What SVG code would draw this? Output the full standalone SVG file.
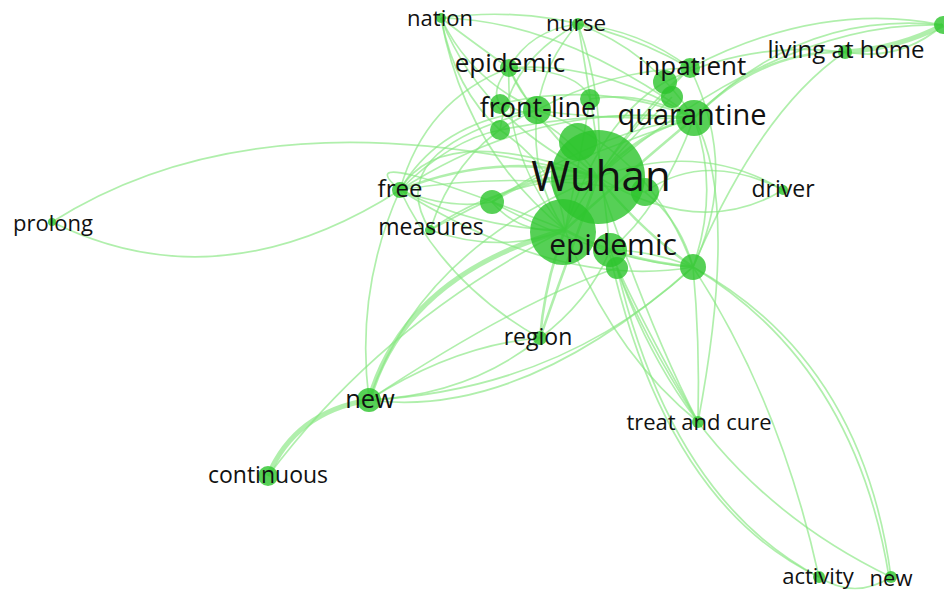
<svg xmlns="http://www.w3.org/2000/svg" width="944" height="597" viewBox="0 0 944 597">
<style>
.e{fill:none;stroke:#86e680;stroke-opacity:0.65;stroke-width:1.7}
.t{stroke-width:2.6}
.k{stroke-width:5}
.n{fill:#2cc42c;fill-opacity:0.8}
text{font-family:"Open Sans","Liberation Sans",sans-serif;fill:#111;text-anchor:middle}
</style>
<rect width="944" height="597" fill="#fff"/>
<g id="edges">
<path class="e" d="M52,222 Q260,90 598,177"/>
<path class="e" d="M52,222 Q220,305 400,190"/>
<path class="e k" d="M369,400 Q295,412 268,476"/>
<path class="e" d="M268,476 Q385,320 565,230"/>
<path class="e k" d="M369,400 Q405,275 565,230"/>
<path class="e" d="M369,400 Q470,395 540,338"/>
<path class="e" d="M369,400 Q455,345 540,338"/>
<path class="e" d="M369,400 Q355,290 400,190"/>
<path class="e" d="M369,400 Q520,420 693,267"/>
<path class="e t" d="M540,338 Q545,280 565,230"/>
<path class="e t" d="M540,338 Q560,280 598,177"/>
<path class="e" d="M540,338 Q590,300 610,250"/>
<path class="e" d="M540,338 Q445,285 400,190"/>
<path class="e" d="M698,422 Q610,350 565,230"/>
<path class="e" d="M698,422 Q640,330 617,268"/>
<path class="e" d="M698,422 Q700,340 693,267"/>
<path class="e" d="M698,422 Q630,300 610,250"/>
<path class="e" d="M610,255 Q666,504 819,577"/>
<path class="e" d="M617,268 Q672,500 819,577"/>
<path class="e" d="M693,267 Q780,400 819,577"/>
<path class="e" d="M617,268 Q690,480 891,577"/>
<path class="e" d="M693,267 Q862,360 891,577"/>
<path class="e" d="M693,267 Q855,365 889,577"/>
<path class="e" d="M819,577 Q855,600 891,577"/>
<path class="e" d="M598,177 Q700,140 783,190"/>
<path class="e" d="M645,192 Q705,150 783,190"/>
<path class="e" d="M598,177 Q700,240 783,190"/>
<path class="e t" d="M694,118 Q760,50 845,52"/>
<path class="e" d="M694,118 Q800,10 943,25"/>
<path class="e" d="M690,68 Q820,0 943,25"/>
<path class="e k" d="M845,52 Q900,48 943,25"/>
<path class="e" d="M845,52 Q900,62 943,25"/>
<path class="e" d="M693,267 Q760,110 845,52"/>
<path class="e" d="M598,177 Q780,20 943,25"/>
<path class="e" d="M665,82 Q750,40 845,52"/>
<path class="e" d="M441,18 Q470,40 509,68"/>
<path class="e" d="M441,18 Q470,80 537,110"/>
<path class="e" d="M441,18 Q480,120 598,177"/>
<path class="e" d="M441,18 Q455,90 500,130"/>
<path class="e" d="M441,18 Q560,20 694,118"/>
<path class="e" d="M441,18 Q570,0 690,68"/>
<path class="e" d="M441,18 Q465,150 565,230"/>
<path class="e" d="M578,24 Q530,30 509,68"/>
<path class="e" d="M578,24 Q545,60 537,110"/>
<path class="e" d="M578,24 Q605,100 598,177"/>
<path class="e" d="M578,24 Q650,50 694,118"/>
<path class="e" d="M578,24 Q640,30 690,68"/>
<path class="e" d="M578,24 Q510,60 500,130"/>
<path class="e" d="M578,24 Q600,150 610,250"/>
<path class="e" d="M509,68 Q540,130 598,177"/>
<path class="e" d="M509,68 Q520,95 537,110"/>
<path class="e" d="M509,68 Q505,160 565,230"/>
<path class="e" d="M509,68 Q600,60 694,118"/>
<path class="e" d="M509,68 Q490,90 500,104"/>
<path class="e" d="M509,68 Q580,70 590,99"/>
<path class="e t" d="M400,190 Q500,150 598,177"/>
<path class="e" d="M400,190 Q480,230 565,230"/>
<path class="e" d="M400,190 Q440,120 537,110"/>
<path class="e" d="M400,190 Q540,100 694,118"/>
<path class="e" d="M400,190 Q450,210 492,202"/>
<path class="e" d="M400,190 Q560,290 693,267"/>
<path class="e" d="M400,190 Q425,100 509,68"/>
<path class="e" d="M400,190 Q450,140 500,130"/>
<path class="e" d="M400,190 Q520,170 645,192"/>
<path class="e" d="M430,230 Q500,180 598,177"/>
<path class="e" d="M430,230 Q500,255 565,230"/>
<path class="e" d="M430,230 Q460,140 537,110"/>
<path class="e" d="M430,230 Q560,160 694,118"/>
<path class="e t" d="M492,202 Q540,170 598,177"/>
<path class="e" d="M492,202 Q520,235 565,230"/>
<path class="e" d="M492,202 Q600,130 694,118"/>
<path class="e" d="M492,202 Q600,260 693,267"/>
<path class="e" d="M500,104 Q560,120 598,177"/>
<path class="e" d="M500,104 Q600,80 694,118"/>
<path class="e" d="M500,130 Q560,170 565,230"/>
<path class="e" d="M500,130 Q600,110 694,118"/>
<path class="e" d="M537,110 Q600,120 694,118"/>
<path class="e" d="M537,110 Q530,180 565,230"/>
<path class="e" d="M537,110 Q650,150 693,267"/>
<path class="e" d="M590,99 Q640,90 694,118"/>
<path class="e" d="M590,99 Q580,160 565,230"/>
<path class="e t" d="M694,118 Q640,130 598,177"/>
<path class="e t" d="M694,118 Q620,180 565,230"/>
<path class="e" d="M694,118 Q720,190 693,267"/>
<path class="e" d="M694,118 Q660,210 610,250"/>
<path class="e" d="M694,118 Q740,200 698,422"/>
<path class="e" d="M690,68 Q640,110 598,177"/>
<path class="e" d="M690,68 Q600,160 565,230"/>
<path class="e" d="M690,68 Q610,70 537,110"/>
<path class="e" d="M690,68 Q740,170 693,267"/>
<path class="e" d="M665,82 Q600,120 565,230"/>
<path class="e" d="M672,97 Q620,150 598,177"/>
<path class="e t" d="M693,267 Q640,230 598,177"/>
<path class="e t" d="M693,267 Q620,260 565,230"/>
<path class="e" d="M693,267 Q650,250 610,250"/>
<path class="e" d="M693,267 Q680,220 645,192"/>
<path class="e" d="M598,177 Q650,330 698,422"/>
<path class="e" d="M565,230 Q340,140 400,190"/>
<path class="e" d="M598,177 Q440,120 400,190"/>
<path class="e" d="M537,110 Q380,150 430,230"/>
<path class="e" d="M598,177 Q420,250 369,400"/>
<path class="e" d="M617,268 Q520,300 369,400"/>
<path class="e" d="M693,267 Q560,390 369,400"/>
</g>
<g id="n-wuhan"><circle class="n" cx="578" cy="142" r="19"/><circle class="n" cx="598" cy="177" r="47"/><circle class="n" cx="645" cy="192" r="14"/><text x="601" y="191" font-size="42">Wuhan</text></g>
<g id="n-epidemic"><circle class="n" cx="563" cy="232" r="33"/><circle class="n" cx="610" cy="250" r="17"/><circle class="n" cx="617" cy="268" r="11"/><text x="613" y="255" font-size="30">epidemic</text></g>
<g id="n-misc"><circle class="n" cx="693" cy="267" r="13"/><circle class="n" cx="492" cy="202" r="12"/><circle class="n" cx="500" cy="104" r="10"/><circle class="n" cx="500" cy="130" r="10"/><circle class="n" cx="590" cy="99" r="10"/><circle class="n" cx="943" cy="25" r="9"/></g>
<g id="n-quarantine"><circle class="n" cx="694" cy="118" r="18"/><text x="692" y="125" font-size="29">quarantine</text></g>
<g id="n-inpatient"><circle class="n" cx="665" cy="82" r="12"/><circle class="n" cx="672" cy="97" r="11"/><circle class="n" cx="690" cy="68" r="10"/><text x="692" y="75" font-size="26">inpatient</text></g>
<g id="n-frontline"><circle class="n" cx="537" cy="110" r="14"/><text x="538" y="117" font-size="27">front-line</text></g>
<g id="n-epidemic-top"><circle class="n" cx="509" cy="68" r="9"/><text x="510" y="72" font-size="26">epidemic</text></g>
<g id="n-nation"><circle class="n" cx="441" cy="18" r="5"/><text x="440" y="26" font-size="22">nation</text></g>
<g id="n-nurse"><circle class="n" cx="578" cy="24" r="6"/><text x="576" y="31" font-size="22.5">nurse</text></g>
<g id="n-living"><circle class="n" cx="845" cy="52" r="7"/><text x="846" y="58" font-size="24">living at home</text></g>
<g id="n-driver"><circle class="n" cx="783" cy="190" r="5"/><text x="783" y="197" font-size="23">driver</text></g>
<g id="n-free"><circle class="n" cx="400" cy="190" r="8"/><text x="400" y="197" font-size="24">free</text></g>
<g id="n-measures"><circle class="n" cx="430" cy="230" r="5"/><text x="431" y="235" font-size="23">measures</text></g>
<g id="n-prolong"><circle class="n" cx="52" cy="222" r="4"/><text x="53" y="231" font-size="22">prolong</text></g>
<g id="n-region"><circle class="n" cx="540" cy="338" r="7"/><text x="538" y="345" font-size="23">region</text></g>
<g id="n-new"><circle class="n" cx="369" cy="400" r="12"/><text x="370" y="408" font-size="25.5">new</text></g>
<g id="n-continuous"><circle class="n" cx="268" cy="476" r="10"/><text x="268" y="483" font-size="23">continuous</text></g>
<g id="n-treat"><circle class="n" cx="698" cy="422" r="6"/><text x="699" y="430" font-size="22">treat and cure</text></g>
<g id="n-activity"><circle class="n" cx="819" cy="577" r="6"/><text x="818" y="584" font-size="22">activity</text></g>
<g id="n-new2"><circle class="n" cx="891" cy="577" r="6"/><text x="891" y="586" font-size="22">new</text></g>
</svg>
